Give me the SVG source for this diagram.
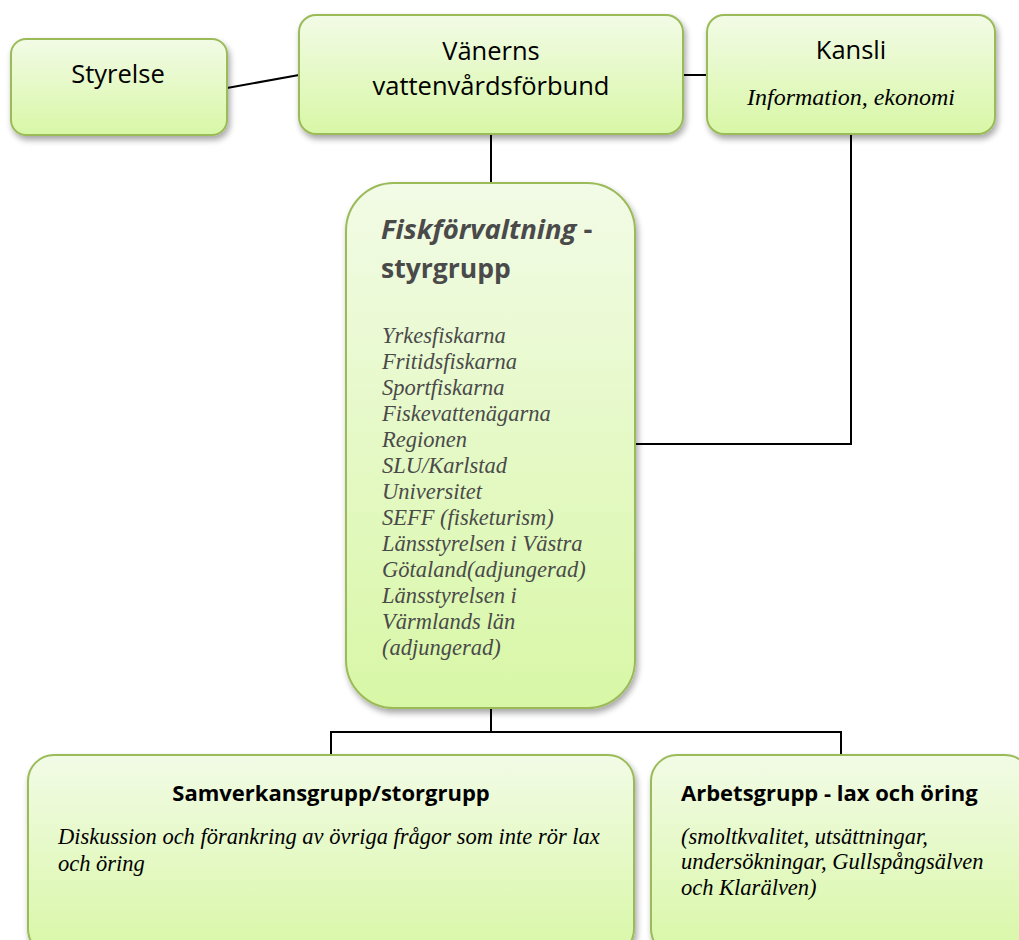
<svg xmlns="http://www.w3.org/2000/svg" width="1019" height="940" viewBox="0 0 1019 940">
  <defs>
    <linearGradient id="fillGreen" x1="0" y1="0" x2="0" y2="1">
      <stop offset="0" stop-color="#f2fbe6"/>
      <stop offset="1" stop-color="#d8f7a6"/>
    </linearGradient>
    <filter id="shadow" x="-10%" y="-10%" width="125%" height="130%">
      <feGaussianBlur in="SourceAlpha" stdDeviation="3"/>
      <feOffset dx="2" dy="4" result="b"/>
      <feComponentTransfer><feFuncA type="linear" slope="0.35"/></feComponentTransfer>
      <feMerge><feMergeNode/><feMergeNode in="SourceGraphic"/></feMerge>
    </filter>
  </defs>
  <style>
    .box { fill: url(#fillGreen); stroke: #9bbb59; stroke-width: 2; filter: url(#shadow); }
    .link { fill: none; stroke: #000; stroke-width: 2; }
    .sans { font-family: "Open Sans", "Liberation Sans", sans-serif; fill: #000; }
    .head { font-family: "Open Sans", "Liberation Sans", sans-serif; font-weight: bold; fill: #000; }
    .serif-it { font-family: "Liberation Serif", serif; font-style: italic; fill: #000; }
    .grey { fill: #4a4a4a; }
  </style>
  <rect width="1019" height="940" fill="#fff"/>

  <g id="connectors">
    <line class="link" x1="227" y1="88" x2="299" y2="75"/>
    <line class="link" x1="683" y1="75" x2="707" y2="75"/>
    <line class="link" x1="491" y1="134" x2="491" y2="183"/>
    <polyline class="link" points="851,134 851,444 635,444"/>
    <line class="link" x1="491" y1="708" x2="491" y2="732"/>
    <polyline class="link" points="331,755 331,732 841,732 841,755"/>
  </g>

  <g id="styrelse">
    <rect class="box" x="11" y="39" width="216" height="96" rx="15"/>
    <text class="sans" x="118" y="83" font-size="25.5" text-anchor="middle">Styrelse</text>
  </g>

  <g id="vanerns">
    <rect class="box" x="299" y="15" width="384" height="119" rx="17"/>
    <text class="sans" x="491" y="60" font-size="25.5" text-anchor="middle">Vänerns</text>
    <text class="sans" x="491" y="95" font-size="25.5" text-anchor="middle">vattenvårdsförbund</text>
  </g>

  <g id="kansli">
    <rect class="box" x="707" y="15" width="288" height="119" rx="17"/>
    <text class="sans" x="851" y="59" font-size="25.5" text-anchor="middle">Kansli</text>
    <text class="serif-it" x="851" y="105" font-size="24" text-anchor="middle">Information, ekonomi</text>
  </g>

  <g id="styrgrupp">
    <rect class="box" x="346" y="183" width="289" height="525" rx="48"/>
    <text class="head grey" x="381" y="239" font-size="27.5"><tspan font-style="italic">Fiskförvaltning</tspan> -</text>
    <text class="head grey" x="381" y="278" font-size="26.5">styrgrupp</text>
    <text class="serif-it grey" font-size="22.5">
      <tspan x="382" y="343">Yrkesfiskarna</tspan>
      <tspan x="382" y="369">Fritidsfiskarna</tspan>
      <tspan x="382" y="395">Sportfiskarna</tspan>
      <tspan x="382" y="421">Fiskevattenägarna</tspan>
      <tspan x="382" y="447">Regionen</tspan>
      <tspan x="382" y="473">SLU/Karlstad</tspan>
      <tspan x="382" y="499">Universitet</tspan>
      <tspan x="382" y="525">SEFF (fisketurism)</tspan>
      <tspan x="382" y="551">Länsstyrelsen i Västra</tspan>
      <tspan x="382" y="577">Götaland(adjungerad)</tspan>
      <tspan x="382" y="603">Länsstyrelsen i</tspan>
      <tspan x="382" y="629">Värmlands län</tspan>
      <tspan x="382" y="655">(adjungerad)</tspan>
    </text>
  </g>

  <g id="samverkansgrupp">
    <rect class="box" x="28" y="755" width="606" height="200" rx="26"/>
    <text class="head" x="331" y="801" font-size="22" text-anchor="middle">Samverkansgrupp/storgrupp</text>
    <text class="serif-it" font-size="22.5">
      <tspan x="58" y="844">Diskussion och förankring av övriga frågor som inte rör lax</tspan>
      <tspan x="58" y="871">och öring</tspan>
    </text>
  </g>

  <g id="arbetsgrupp">
    <rect class="box" x="651" y="755" width="380" height="200" rx="26"/>
    <text class="head" x="681" y="801" font-size="22">Arbetsgrupp - lax och öring</text>
    <text class="serif-it" font-size="22.5">
      <tspan x="681" y="844">(smoltkvalitet, utsättningar,</tspan>
      <tspan x="681" y="869">undersökningar, Gullspångsälven</tspan>
      <tspan x="681" y="895">och Klarälven)</tspan>
    </text>
  </g>
</svg>
